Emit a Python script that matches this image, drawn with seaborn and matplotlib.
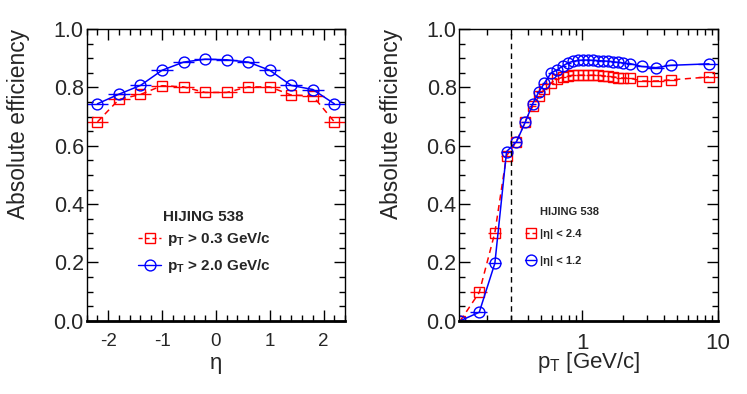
import numpy as np
import pandas as pd
import seaborn as sns
import matplotlib.pyplot as plt
from matplotlib.lines import Line2D
from matplotlib.ticker import MultipleLocator, FixedLocator, NullFormatter, LogLocator

# efficiency vs eta (HIJING 538)
eta = [-2.2, -1.8, -1.4, -1.0, -0.6, -0.2, 0.2, 0.6, 1.0, 1.4, 1.8, 2.2]
eta_err = [0.2] * 12
eff_eta_pt03 = [0.682, 0.759, 0.776, 0.806, 0.802, 0.783, 0.783, 0.802, 0.802, 0.774, 0.771, 0.682]
eff_eta_pt20 = [0.744, 0.777, 0.807, 0.859, 0.887, 0.897, 0.895, 0.887, 0.859, 0.807, 0.793, 0.744]

# efficiency vs pT
pt = [0.127, 0.175, 0.228, 0.278, 0.329, 0.381, 0.434, 0.481, 0.528, 0.592, 0.652, 0.729,
      0.794, 0.863, 0.939, 1.02, 1.11, 1.21, 1.32, 1.43, 1.56, 1.70, 1.85, 2.01, 2.25,
      2.75, 3.5, 4.5, 8.6]
pt_err = [0.025, 0.025, 0.025, 0.025, 0.025, 0.025, 0.025, 0.025, 0.025, 0.03, 0.03, 0.035,
          0.035, 0.035, 0.04, 0.04, 0.045, 0.05, 0.05, 0.055, 0.06, 0.07, 0.07, 0.08, 0.15,
          0.25, 0.5, 0.5, 1.4]
eff_pt_eta24 = [0.0, 0.097, 0.302, 0.566, 0.614, 0.683, 0.736, 0.770, 0.794, 0.816, 0.828, 0.836,
                0.840, 0.842, 0.842, 0.842, 0.842, 0.842, 0.842, 0.840, 0.838, 0.836, 0.834, 0.832,
                0.832, 0.822, 0.822, 0.826, 0.836]
eff_pt_eta12 = [0.0, 0.029, 0.197, 0.580, 0.614, 0.680, 0.745, 0.785, 0.815, 0.850, 0.860, 0.875,
                0.885, 0.890, 0.893, 0.894, 0.894, 0.893, 0.892, 0.891, 0.890, 0.888, 0.886, 0.884,
                0.882, 0.872, 0.868, 0.876, 0.881]

sns.set_style("ticks")
plt.rcParams['font.family'] = ['Liberation Sans', 'DejaVu Sans']
plt.rcParams['axes.unicode_minus'] = False
plt.rcParams['mathtext.fontset'] = 'custom'
plt.rcParams['mathtext.rm'] = 'Liberation Sans'
plt.rcParams['mathtext.it'] = 'Liberation Sans:italic'
plt.rcParams['mathtext.bf'] = 'Liberation Sans:bold'

df_eta = pd.DataFrame({"eta": eta, "err": eta_err, "pt03": eff_eta_pt03, "pt20": eff_eta_pt20})
df_pt = pd.DataFrame({"pt": pt, "err": pt_err, "eta24": eff_pt_eta24, "eta12": eff_pt_eta12})

fig = plt.figure(figsize=(7.47, 3.94), dpi=100)
ax1 = fig.add_axes([0.116, 0.186, 0.346, 0.740])
ax2 = fig.add_axes([0.615, 0.186, 0.346, 0.740])

narrow = ['Liberation Sans Narrow', 'Liberation Sans']
ms = 7.8


def draw(ax, df, xcol, col, color, ls, marker):
    ax.errorbar(df[xcol], df[col], xerr=df["err"], fmt='none', ecolor=color, elinewidth=1, capsize=0)
    sns.lineplot(data=df, x=xcol, y=col, ax=ax, color=color, linestyle=ls, linewidth=1.1,
                 marker=marker, markerfacecolor='none', markeredgecolor=color,
                 markersize=ms, markeredgewidth=1)


def style(ax):
    ax.set_ylim(0, 1)
    ax.yaxis.set_major_locator(MultipleLocator(0.2))
    ax.yaxis.set_minor_locator(MultipleLocator(0.05))
    ax.set_yticklabels([f"{v:.1f}" for v in ax.get_yticks()])
    ax.tick_params(which='both', direction='in', top=True, right=True, color='black', width=1)
    ax.tick_params(which='major', length=8)
    ax.tick_params(which='minor', length=4)
    ax.tick_params(axis='y', labelsize=15.5, pad=2)
    for s in ax.spines.values():
        s.set_linewidth(1)
        s.set_color('black')
    ax.spines['bottom'].set_linewidth(2)
    ax.set_ylabel("Absolute efficiency", fontsize=16.4, loc='top')
    ax.yaxis.set_label_coords(-0.22, 1.0)


# left: vs eta
draw(ax1, df_eta, "eta", "pt03", "red", (0, (4, 3)), "s")
draw(ax1, df_eta, "eta", "pt20", "blue", "-", "o")
ax1.set_xlim(-2.4, 2.4)
ax1.xaxis.set_major_locator(MultipleLocator(1))
ax1.xaxis.set_minor_locator(MultipleLocator(0.2))
style(ax1)
ax1.tick_params(axis='x', labelsize=13.5, pad=9)
ax1.set_xlabel("η", fontsize=16)
ax1.xaxis.set_label_coords(0.5, -0.11)

ax1.text(0.295, 0.38, "HIJING 538", transform=ax1.transAxes, fontsize=11,
         fontweight='bold', family=narrow, va='top')
h1 = [Line2D([], [], color='red', ls=(0, (3, 2)), marker='s', mfc='none', ms=ms, lw=1),
      Line2D([], [], color='blue', ls='-', marker='o', mfc='none', ms=ms, lw=1)]
ax1.legend(h1, [r"$\mathbf{p_T}$ > 0.3 GeV/c", r"$\mathbf{p_T}$ > 2.0 GeV/c"],
           loc='upper left', bbox_to_anchor=(0.2, 0.31), frameon=False,
           borderpad=0, borderaxespad=0, handlelength=1.5, handletextpad=0.4,
           labelspacing=0.6, prop={'family': narrow, 'weight': 'bold', 'size': 11})

# right: vs pT
draw(ax2, df_pt, "pt", "eta24", "red", (0, (4, 3)), "s")
draw(ax2, df_pt, "pt", "eta12", "blue", "-", "o")
ax2.set_xscale('log')
ax2.set_xlim(0.125, 10)
ax2.axvline(0.3, color='black', linestyle=(0, (4, 3)), linewidth=1)
ax2.xaxis.set_major_locator(FixedLocator([1, 10]))
ax2.set_xticklabels(["1", "10"])
ax2.xaxis.set_minor_locator(LogLocator(base=10, subs=np.arange(2, 10)))
ax2.xaxis.set_minor_formatter(NullFormatter())
style(ax2)
ax2.tick_params(axis='x', labelsize=16, pad=9)
ax2.set_xlabel(r"$\mathrm{p_T}$ [GeV/c]", fontsize=16)
ax2.xaxis.set_label_coords(0.5, -0.1)

ax2.text(0.31, 0.39, "HIJING 538", transform=ax2.transAxes, fontsize=8,
         fontweight='bold', family=narrow, va='top')
h2 = [Line2D([], [], color='red', ls=(0, (3, 2)), marker='s', mfc='none', ms=ms, lw=1),
      Line2D([], [], color='blue', ls='-', marker='o', mfc='none', ms=ms, lw=1)]
ax2.legend(h2, ["|η| < 2.4", "|η| < 1.2"],
           loc='upper left', bbox_to_anchor=(0.255, 0.315), frameon=False,
           borderpad=0, borderaxespad=0, handlelength=1.0, handletextpad=0.3,
           labelspacing=1.55, prop={'family': narrow, 'weight': 'bold', 'size': 8})

fig.savefig("out.png", dpi=100)
